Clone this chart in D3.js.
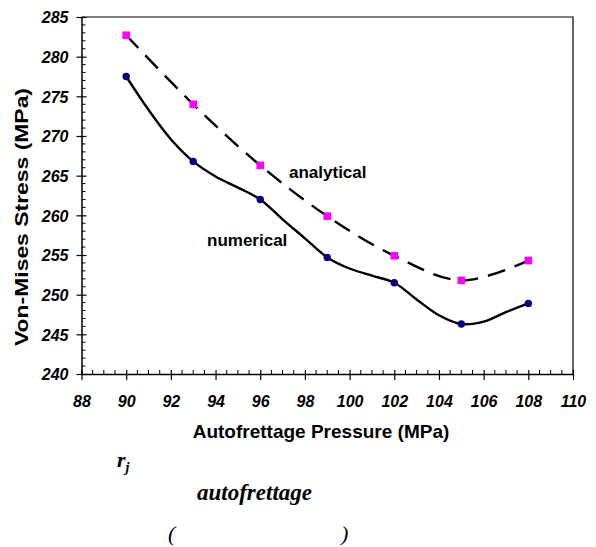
<!DOCTYPE html>
<html>
<head>
<meta charset="utf-8">
<script src="https://cdn.jsdelivr.net/npm/d3@7"></script>
<style>
  html, body { margin: 0; padding: 0; background: #fff; }
  svg { display: block; }
</style>
</head>
<body>
<svg id="chart" width="596" height="547"></svg>
<script>
// Autofrettage pressure (MPa) at which both methods were evaluated
const pressure = [90, 93, 96, 99, 102, 105, 108];
// Von-Mises stress (MPa)
const analytical = [282.7, 274.0, 266.3, 259.9, 254.9, 251.8, 254.3];
const numerical  = [277.5, 266.8, 262.0, 254.7, 251.5, 246.3, 248.9];
// Numerical curve sampled every 1 MPa (FE result path)
const numericalPathP = [90, 91, 92, 93, 94, 95, 96, 97, 98, 99, 100, 101, 102, 103, 104, 105, 106, 107, 108];
const numericalPathV = [277.5, 273.3, 269.6, 266.8, 264.9, 263.5, 262.0, 259.5, 257.1, 254.7, 253.3, 252.4, 251.5, 249.4, 247.4, 246.3, 246.6, 247.8, 248.9];

const xTicks = [88, 90, 92, 94, 96, 98, 100, 102, 104, 106, 108, 110];
const yTicks = [240, 245, 250, 255, 260, 265, 270, 275, 280, 285];

const svg = d3.select("#chart");
const plotL = 81.5, plotR = 573, plotT = 17, plotB = 374;

const x = d3.scaleLinear().domain([88, 110]).range([plotL, plotR]);
const y = d3.scaleLinear().domain([240, 285]).range([plotB, plotT]);

const tickFont = "'Liberation Sans', Arial, sans-serif";

// plot frame (top and right edges)
svg.append("path")
  .attr("d", `M${plotL},${plotT}H${plotR}V${plotB}`)
  .attr("fill", "none").attr("stroke", "#000").attr("stroke-width", 1.2);

// minor ticks
const xMinor = d3.range(88, 110.01, 0.5).filter(v => !xTicks.includes(v));
svg.append("g").selectAll("line").data(xMinor).join("line")
  .attr("x1", d => x(d)).attr("x2", d => x(d))
  .attr("y1", plotB).attr("y2", plotB - 4)
  .attr("stroke", "#000").attr("stroke-width", 1);
const yMinor = d3.range(240, 285.01, 1).filter(v => !yTicks.includes(v));
svg.append("g").selectAll("line").data(yMinor).join("line")
  .attr("x1", plotL).attr("x2", plotL + 4)
  .attr("y1", d => y(d)).attr("y2", d => y(d))
  .attr("stroke", "#000").attr("stroke-width", 1);

// x axis
const gx = svg.append("g").attr("transform", `translate(0,${plotB})`)
  .call(d3.axisBottom(x).tickValues(xTicks).tickSize(6).tickSizeOuter(0).tickFormat(d3.format("d")));
gx.select(".domain").attr("stroke-width", 1.5);
gx.selectAll(".tick line").attr("y1", -4).attr("stroke-width", 1.2);
gx.selectAll(".tick text")
  .attr("dy", 0).attr("y", 33)
  .style("font-family", tickFont).style("font-size", "16px")
  .style("font-weight", "bold").style("font-style", "italic").attr("fill", "#000");

// y axis
const gy = svg.append("g").attr("transform", `translate(${plotL},0)`)
  .call(d3.axisLeft(y).tickValues(yTicks).tickSize(5).tickSizeOuter(0).tickFormat(d3.format("d")));
gy.select(".domain").attr("stroke-width", 1.5);
gy.selectAll(".tick line").attr("x1", 5).attr("stroke-width", 1.2);
gy.selectAll(".tick text")
  .attr("x", -13).attr("dy", "0.36em")
  .style("font-family", tickFont).style("font-size", "16px")
  .style("font-weight", "bold").style("font-style", "italic").attr("fill", "#000");

// axis titles
svg.append("text")
  .attr("x", 321).attr("y", 438)
  .attr("text-anchor", "middle")
  .style("font-family", tickFont).style("font-size", "19px").style("font-weight", "bold")
  .text("Autofrettage Pressure (MPa)");
svg.append("text")
  .attr("transform", "translate(28,217) rotate(-90)")
  .attr("text-anchor", "middle")
  .style("font-family", tickFont).style("font-size", "19px").style("font-weight", "bold")
  .attr("textLength", 258).attr("lengthAdjust", "spacingAndGlyphs")
  .text("Von-Mises Stress (MPa)");

// analytical curve (dashed)
const lineA = d3.line().x((d, i) => x(pressure[i])).y(d => y(d)).curve(d3.curveCatmullRom.alpha(0.5));
svg.append("path").datum(analytical)
  .attr("d", lineA)
  .attr("fill", "none").attr("stroke", "#000").attr("stroke-width", 2.4)
  .attr("stroke-dasharray", "18,10");

// numerical curve (solid)
const lineN = d3.line().x((d, i) => x(numericalPathP[i])).y(d => y(d)).curve(d3.curveCatmullRom.alpha(0.5));
svg.append("path").datum(numericalPathV)
  .attr("d", lineN)
  .attr("fill", "none").attr("stroke", "#000").attr("stroke-width", 2.4);

// markers
svg.append("g").selectAll("rect").data(analytical).join("rect")
  .attr("x", (d, i) => x(pressure[i]) - 3.8).attr("y", d => y(d) - 3.8)
  .attr("width", 7.6).attr("height", 7.6)
  .attr("fill", "#ff00ff");
svg.append("g").selectAll("circle").data(numerical).join("circle")
  .attr("cx", (d, i) => x(pressure[i])).attr("cy", d => y(d)).attr("r", 3.7)
  .attr("fill", "#000080");

// series labels
svg.append("text").attr("x", 289).attr("y", 178)
  .style("font-family", tickFont).style("font-size", "17px").style("font-weight", "bold")
  .text("analytical");
svg.append("text").attr("x", 207).attr("y", 246)
  .style("font-family", tickFont).style("font-size", "17px").style("font-weight", "bold")
  .text("numerical");

// caption fragments
const serif = "'Liberation Serif', 'Times New Roman', serif";
const rj = svg.append("text").attr("x", 117).attr("y", 467)
  .style("font-family", serif).style("font-size", "22px")
  .style("font-weight", "bold").style("font-style", "italic");
rj.append("tspan").text("r");
rj.append("tspan").attr("dy", 5).style("font-size", "14px").text("j");
svg.append("text").attr("x", 197).attr("y", 500)
  .style("font-family", serif).style("font-size", "23px")
  .style("font-weight", "bold").style("font-style", "italic")
  .text("autofrettage");
svg.append("text").attr("x", 168).attr("y", 541)
  .style("font-family", serif).style("font-size", "22px").style("font-style", "italic")
  .text("(");
svg.append("text").attr("x", 341).attr("y", 541)
  .style("font-family", serif).style("font-size", "22px").style("font-style", "italic")
  .text(")");
</script>
</body>
</html>
